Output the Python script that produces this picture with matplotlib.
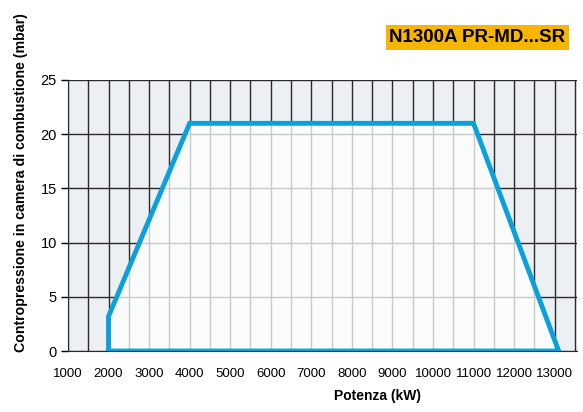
import matplotlib.pyplot as plt
import numpy as np

plt.rcParams['font.family'] = ['Liberation Sans', 'DejaVu Sans']

# working field of the burner (kW, mbar)
power_kw = [2000, 2000, 4000, 11000, 13100, 2000]
pressure_mbar = [0, 3.2, 21, 21, 0, 0]

x_ticks = [1000, 2000, 3000, 4000, 5000, 6000, 7000, 8000, 9000, 10000, 11000, 12000, 13000]
y_ticks = [0, 5, 10, 15, 20, 25]

fig = plt.figure(figsize=(5.83, 4.12), dpi=100)
ax = fig.add_axes([0.1166, 0.148, 0.873, 0.658])
ax.set_facecolor('#edf0f3')

ax.set_xlim(1000, 13550)
ax.set_ylim(0, 25)

# grid: every 500 kW vertically, every 5 mbar horizontally
for xv in np.arange(1000, 13501, 500):
    ax.axvline(xv, color='#2a2a2a', lw=1.0, zorder=1)
for yv in y_ticks:
    ax.axhline(yv, color='#2a2a2a', lw=1.0, zorder=1)

ax.fill(power_kw, pressure_mbar, color='white', alpha=0.75, lw=0, zorder=2)
ax.plot(power_kw, pressure_mbar, color='#0aa0dc', lw=3.5,
        solid_joinstyle='miter', zorder=3)

ax.set_xticks(x_ticks)
ax.set_yticks(y_ticks)
ax.tick_params(axis='x', length=0, pad=12, labelsize=9.5)
ax.tick_params(axis='y', length=5, width=1, direction='out', pad=3, labelsize=10.5)
for s in ['right', 'top']:
    ax.spines[s].set_visible(False)
ax.spines['left'].set_color('#2a2a2a')
ax.spines['bottom'].set_color('#2a2a2a')

fig.text(0.036, 0.556, 'Contropressione in camera di combustione (mbar)',
         rotation=90, ha='center', va='center', fontsize=10.2, fontweight='bold')
fig.text(0.647, 0.04, 'Potenza (kW)', ha='center', va='center',
         fontsize=10, fontweight='bold')

fig.text(0.819, 0.909, 'N1300A PR-MD...SR', ha='center', va='center',
         fontsize=13.5, fontweight='bold',
         bbox=dict(boxstyle='square,pad=0.2', fc='#f7b500', ec='none'))

fig.savefig('out.png', dpi=100)
